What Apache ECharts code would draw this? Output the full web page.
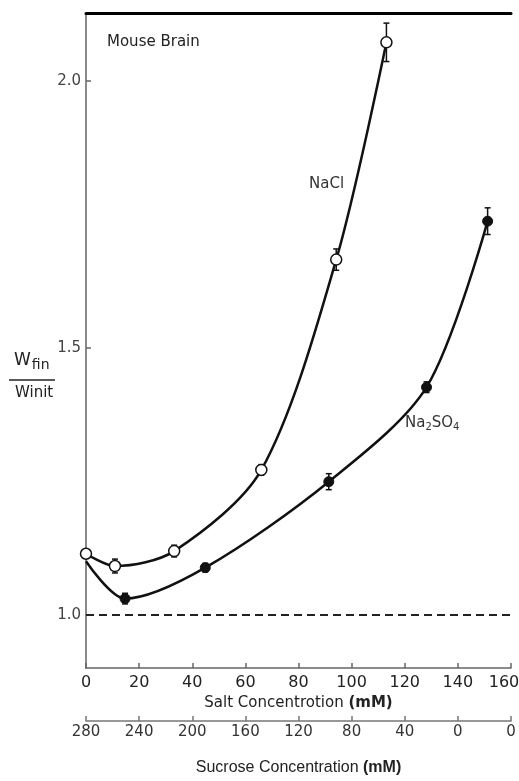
<!DOCTYPE html>
<html>
<head>
<meta charset="utf-8">
<script src="https://cdn.jsdelivr.net/npm/echarts@6/dist/echarts.min.js"></script>
<style>html,body{margin:0;padding:0;background:#fff;}#c{width:519px;height:781px;}</style>
</head>
<body>
<div id="c"></div>
<script>
// ---- data ----
var naclX   = [0, 10.9, 33.2, 66.0, 94.2, 113.1];
var naclY   = [1.114, 1.091, 1.119, 1.271, 1.665, 2.072];
var naclErr = [0, 0.013, 0.011, 0.010, 0.020, 0.036];

var sulfX   = [0, 14.7, 44.9, 91.4, 128.2, 151.2];
var sulfY   = [1.100, 1.030, 1.088, 1.249, 1.426, 1.737];
var sulfErr = [0, 0.010, 0.008, 0.015, 0.010, 0.025];

var saltTicks    = [0, 20, 40, 60, 80, 100, 120, 140, 160];
var sucroseTicks = ['280', '240', '200', '160', '120', '80', '40', '0', '0'];
var yTicks       = [1.0, 1.5, 2.0];
var refLine      = 1.0;

// ---- build ----
function pts(xs, ys) { return xs.map(function (x, i) { return [x, ys[i]]; }); }
function errs(xs, ys, es) {
  var out = [];
  xs.forEach(function (x, i) { if (es[i] > 0) out.push([x, ys[i] - es[i], ys[i] + es[i]]); });
  return out;
}
function errItem(params, api) {
  var x = api.value(0), lo = api.value(1), hi = api.value(2);
  var a = api.coord([x, hi]), b = api.coord([x, lo]);
  var w = 3, st = { stroke: '#111', lineWidth: 1.5 };
  return { type: 'group', children: [
    { type: 'line', shape: { x1: a[0], y1: a[1], x2: b[0], y2: b[1] }, style: st },
    { type: 'line', shape: { x1: a[0] - w, y1: a[1], x2: a[0] + w, y2: a[1] }, style: st },
    { type: 'line', shape: { x1: b[0] - w, y1: b[1], x2: b[0] + w, y2: b[1] }, style: st }
  ]};
}

var sulfData = pts(sulfX, sulfY).map(function (p, i) {
  return i === 0 ? { value: p, symbol: 'none' } : p;
});

var font = 'DejaVu Sans';
var chart = echarts.init(document.getElementById('c'), null, { renderer: 'canvas' });
chart.setOption({
  animation: false,
  backgroundColor: '#fff',
  textStyle: { fontFamily: font },
  grid: [
    { left: 86, right: 8, top: 13.5, bottom: 113, outerBoundsMode: 'none', containLabel: false },
    { left: 86, right: 8, bottom: 60, height: 1, outerBoundsMode: 'none', containLabel: false }
  ],
  xAxis: [
    { type: 'value', gridIndex: 0, min: 0, max: 160, interval: 20, position: 'bottom',
      axisLine: { lineStyle: { color: '#666', width: 1.5 } },
      axisTick: { inside: true, length: 5, lineStyle: { color: '#666', width: 1.5 } },
      axisLabel: { fontSize: 16, color: '#222', margin: 7, fontFamily: font,
        formatter: function (v) { return v === 160 ? '{m|160}' : String(v); },
        rich: { m: { fontSize: 16, color: '#222', fontFamily: font, padding: [0, 14, 0, 0] } } },
      splitLine: { show: false },
      name: '{n|Salt Concentrotion }{b|(mM)}', nameLocation: 'middle', nameGap: 24,
      nameTextStyle: { rich: {
        n: { fontSize: 15, color: '#222', fontFamily: font },
        b: { fontSize: 15, color: '#222', fontWeight: 'bold', fontFamily: font } } } },
    { type: 'value', gridIndex: 0, min: 0, max: 160, position: 'top',
      axisLine: { lineStyle: { color: '#000', width: 3 } },
      axisTick: { show: false }, axisLabel: { show: false }, splitLine: { show: false } },
    { type: 'value', gridIndex: 1, min: 0, max: 160, interval: 20, position: 'bottom',
      axisLine: { lineStyle: { color: '#777', width: 1.5 } },
      axisTick: { inside: true, length: 5, lineStyle: { color: '#777', width: 1.5 } },
      axisLabel: { fontSize: 15, color: '#333', margin: 4, fontFamily: font,
        formatter: function (v) { return sucroseTicks[saltTicks.indexOf(v)]; } },
      splitLine: { show: false },
      name: '{n|Sucrose Concentration }{b|(mM)}', nameLocation: 'middle', nameGap: 39,
      nameTextStyle: { rich: {
        n: { fontSize: 16, color: '#222', fontFamily: 'Liberation Sans' },
        b: { fontSize: 16, color: '#222', fontWeight: 'bold', fontFamily: 'Liberation Sans' } } } }
  ],
  yAxis: [
    { type: 'value', gridIndex: 0, min: 0.9, max: 2.126,
      axisLine: { lineStyle: { color: '#666', width: 1.5 } },
      axisTick: { inside: true, length: 5, customValues: yTicks, lineStyle: { color: '#666', width: 1.5 } },
      axisLabel: { fontSize: 15, color: '#444', margin: 5, customValues: yTicks, fontFamily: font,
        formatter: function (v) { return v.toFixed(1); } },
      splitLine: { show: false } },
    { type: 'value', gridIndex: 0, min: 0.9, max: 2.126, position: 'right',
      axisLine: { show: true, lineStyle: { color: '#888', width: 1.5 } },
      axisTick: { show: false }, axisLabel: { show: false }, splitLine: { show: false } },
    { type: 'value', gridIndex: 1, show: false }
  ],
  graphic: [
    { type: 'text', left: 107, top: 35, style: { text: 'Mouse Brain', font: '15px "DejaVu Sans"', fill: '#222' } },
    { type: 'text', left: 309, top: 177, style: { text: 'NaCl', font: '15px "DejaVu Sans"', fill: '#333' } },
    { type: 'text', left: 405, top: 416, style: {
        rich: { a: { fontSize: 15, fontFamily: font, fill: '#333' },
                s: { fontSize: 10, fontFamily: font, fill: '#333', padding: [8, 0, 0, 0] } },
        text: '{a|Na}{s|2}{a|SO}{s|4}' } },
    { type: 'text', left: 14, top: 352, style: {
        rich: { a: { fontSize: 17, fontFamily: font, fill: '#222' },
                s: { fontSize: 14, fontFamily: font, fill: '#222', padding: [10, 0, 0, 1] } },
        text: '{a|W}{s|fin}' } },
    { type: 'line', shape: { x1: 9, y1: 380, x2: 55, y2: 380 }, style: { stroke: '#222', lineWidth: 1.5 } },
    { type: 'text', left: 15, top: 386, style: { text: 'Winit', font: '15px "DejaVu Sans"', fill: '#222' } }
  ],
  series: [
    { type: 'custom', xAxisIndex: 0, yAxisIndex: 0, renderItem: errItem,
      data: errs(naclX, naclY, naclErr), z: 1 },
    { type: 'custom', xAxisIndex: 0, yAxisIndex: 0, renderItem: errItem,
      data: errs(sulfX, sulfY, sulfErr), z: 1 },
    { type: 'line', xAxisIndex: 0, yAxisIndex: 0, data: sulfData, smooth: 0.3,
      symbol: 'circle', symbolSize: 10,
      lineStyle: { color: '#111', width: 2.5 }, itemStyle: { color: '#111', borderColor: '#111' }, z: 3,
      markLine: { silent: true, symbol: 'none', label: { show: false },
        lineStyle: { color: '#222', type: [8, 5], width: 2 },
        data: [{ yAxis: refLine }] } },
    { type: 'line', xAxisIndex: 0, yAxisIndex: 0, data: pts(naclX, naclY), smooth: 0.3,
      symbol: 'circle', symbolSize: 11,
      lineStyle: { color: '#111', width: 2.5 },
      itemStyle: { color: '#fff', borderColor: '#111', borderWidth: 1.5 }, z: 4 }
  ]
});
</script>
</body>
</html>
